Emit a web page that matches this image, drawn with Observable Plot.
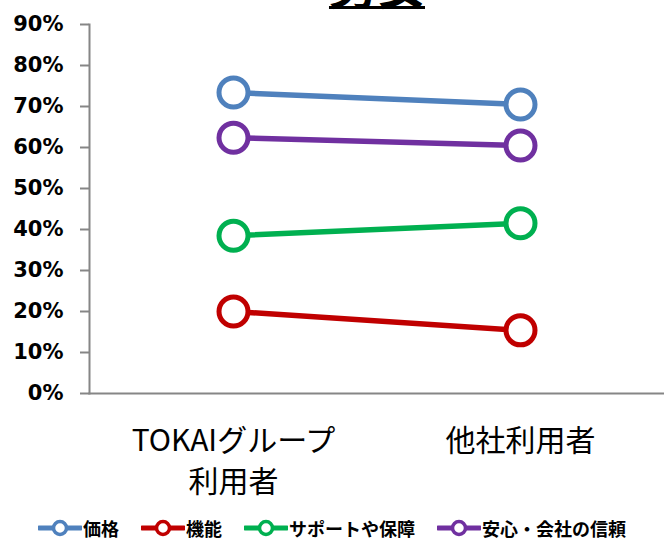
<!DOCTYPE html>
<html>
<head>
<meta charset="utf-8">
<script src="https://cdn.jsdelivr.net/npm/d3@7"></script>
<script src="https://cdn.jsdelivr.net/npm/@observablehq/plot@0.6"></script>
<style>
  html, body { margin: 0; padding: 0; background: #fff; }
  #wrap { position: relative; width: 664px; height: 541px; overflow: hidden; }
  #title { position: absolute; top: -44px; left: 0; width: 754px; text-align: center;
    font-family: "Noto Sans CJK JP"; font-weight: bold; font-size: 48px; line-height: 54px;
    text-decoration: underline; text-decoration-thickness: 3px; text-underline-offset: 2px; color: #000; }
  #chart { position: absolute; top: 0; left: 0; }
  #legend { position: absolute; top: 517px; left: 0; width: 664px; height: 22px; display: flex;
    justify-content: center; align-items: center; gap: 22px;
    font-family: "Noto Sans CJK JP"; font-weight: bold; font-size: 18px; color: #000; }
  .item { display: flex; align-items: center; }
  .item svg { display: block; margin-right: 1px; }
</style>
</head>
<body>
<div id="wrap">
  <div id="title">男女</div>
  <div id="chart"></div>
  <div id="legend"></div>
</div>
<script>
const categories = ["TOKAIグループ\n利用者", "他社利用者"];
const seriesNames = ["価格", "機能", "サポートや保障", "安心・会社の信頼"];
const priceValues = [73.4, 70.5];
const functionValues = [20.0, 15.4];
const supportValues = [38.5, 41.5];
const trustValues = [62.4, 60.5];
const seriesColors = ["#4F81BD", "#C00000", "#00B050", "#7030A0"];
const yTicks = [0, 10, 20, 30, 40, 50, 60, 70, 80, 90];

const valueLists = [priceValues, functionValues, supportValues, trustValues];
const rows = [];
seriesNames.forEach((s, i) => {
  categories.forEach((c, j) => rows.push({series: s, category: c, value: valueLists[i][j]}));
});

const axisColor = "#868686";
const chart = Plot.plot({
  width: 664,
  height: 500,
  marginLeft: 89,
  marginRight: 0,
  marginTop: 24,
  marginBottom: 107,
  style: {background: "transparent", color: "#000", overflow: "visible"},
  x: {type: "point", domain: categories, padding: 0.5},
  y: {domain: [0, 90]},
  color: {domain: seriesNames, range: seriesColors},
  marks: [
    Plot.axisY({ticks: yTicks, tickSize: 9, tickPadding: 17, tickFormat: d => d + "%",
      stroke: axisColor, strokeWidth: 2, fontSize: 21, fontWeight: "bold",
      fontFamily: "DejaVu Sans", fill: "#000", label: null}),
    Plot.axisX({tickSize: 0, tickPadding: 29, fontSize: 30, lineHeight: 1.36,
      fontFamily: "Noto Sans CJK JP", fill: "#000", label: null}),
    Plot.frame({anchor: "left", stroke: axisColor, strokeWidth: 2}),
    Plot.frame({anchor: "bottom", stroke: axisColor, strokeWidth: 2}),
    Plot.line(rows, {x: "category", y: "value", z: "series", stroke: "series", strokeWidth: 5.5}),
    Plot.dot(rows, {x: "category", y: "value", stroke: "series", fill: "white", r: 14.5, strokeWidth: 5})
  ]
});
document.getElementById("chart").appendChild(chart);

const legend = document.getElementById("legend");
seriesNames.forEach((s, i) => {
  const item = document.createElement("div");
  item.className = "item";
  item.innerHTML = `<svg width="44" height="20"><line x1="1" y1="10" x2="43" y2="10" stroke="${seriesColors[i]}" stroke-width="5" stroke-linecap="round"/><circle cx="22" cy="10" r="6.5" fill="white" stroke="${seriesColors[i]}" stroke-width="3.5"/></svg><span>${s}</span>`;
  legend.appendChild(item);
});
</script>
</body>
</html>
